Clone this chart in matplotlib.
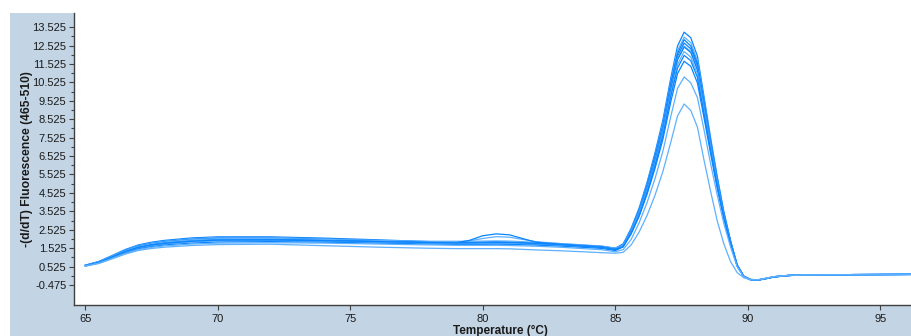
import numpy as np
import matplotlib.pyplot as plt
from matplotlib.patches import Rectangle

plt.rcParams['font.family'] = ['Liberation Sans', 'DejaVu Sans']

# temperature steps of the melt (deg C)
temps = [65.0, 65.5, 66.0, 66.5, 67.0, 67.5, 68.0, 69.0, 70.0, 72.0, 74.0, 76.0,
         78.0, 79.0, 79.5, 80.0, 80.5, 81.0, 81.5, 82.0, 83.0, 84.5, 85.0,
         85.3, 85.6, 85.9, 86.2, 86.5, 86.8, 87.1, 87.35, 87.6,
         87.85, 88.1, 88.35, 88.6, 88.85, 89.1, 89.35, 89.6,
         89.85, 90.1, 90.4, 90.7, 91.0, 91.5, 92.0, 94.0, 96.2]

# -(d/dT) fluorescence per sample
s01 = [0.60, 0.80, 1.12, 1.45, 1.70, 1.85, 1.95, 2.08, 2.14, 2.14, 2.07, 1.98,
       1.88, 1.85, 1.84, 1.84, 1.85, 1.84, 1.82, 1.80, 1.74, 1.62, 1.52,
       1.75, 2.60, 3.70, 5.10, 6.70, 8.50, 10.80, 12.50, 13.25,
       12.95, 11.95, 9.75, 7.50, 5.40, 3.50, 1.95, 0.62,
       0.01, -0.18, -0.20, -0.12, -0.03, 0.04, 0.07, 0.09, 0.10]
s02 = [0.60, 0.78, 1.10, 1.42, 1.66, 1.80, 1.90, 2.03, 2.10, 2.10, 2.02, 1.94,
       1.86, 1.85, 1.92, 2.05, 2.15, 2.12, 2.00, 1.88, 1.76, 1.62, 1.52,
       1.70, 2.60, 3.60, 5.00, 6.55, 8.30, 10.60, 12.25, 12.98,
       12.68, 11.70, 9.55, 7.35, 5.30, 3.40, 1.90, 0.60,
       0.00, -0.19, -0.21, -0.13, -0.04, 0.03, 0.07, 0.09, 0.10]
s03 = [0.60, 0.78, 1.08, 1.40, 1.64, 1.78, 1.88, 2.00, 2.06, 2.06, 2.01, 1.94,
       1.86, 1.84, 1.83, 1.83, 1.84, 1.83, 1.81, 1.79, 1.73, 1.60, 1.50,
       1.75, 2.55, 3.60, 4.95, 6.50, 8.20, 10.50, 12.10, 12.84,
       12.50, 11.55, 9.45, 7.30, 5.25, 3.40, 1.90, 0.60,
       0.00, -0.18, -0.20, -0.12, -0.03, 0.04, 0.07, 0.09, 0.10]
s04 = [0.58, 0.76, 1.06, 1.37, 1.61, 1.75, 1.85, 1.97, 2.02, 2.02, 1.98, 1.91,
       1.84, 1.82, 1.81, 1.81, 1.82, 1.81, 1.79, 1.77, 1.71, 1.58, 1.47,
       1.70, 2.50, 3.55, 4.85, 6.40, 8.10, 10.35, 11.95, 12.66,
       12.35, 11.40, 9.30, 7.20, 5.15, 3.35, 1.85, 0.60,
       -0.01, -0.18, -0.19, -0.11, -0.02, 0.04, 0.07, 0.09, 0.10]
s05 = [0.60, 0.78, 1.07, 1.38, 1.62, 1.76, 1.86, 1.98, 2.04, 2.05, 2.00, 1.94,
       1.90, 1.90, 1.90, 1.91, 1.92, 1.91, 1.88, 1.84, 1.77, 1.64, 1.52,
       1.70, 2.50, 3.50, 4.80, 6.30, 8.00, 10.20, 11.80, 12.50,
       12.20, 11.25, 9.20, 7.10, 5.10, 3.30, 1.85, 0.60,
       0.00, -0.18, -0.20, -0.12, -0.03, 0.04, 0.07, 0.09, 0.10]
s06 = [0.58, 0.75, 1.03, 1.33, 1.56, 1.70, 1.79, 1.90, 1.96, 1.98, 1.94, 1.89,
       1.83, 1.82, 1.95, 2.20, 2.30, 2.25, 2.05, 1.85, 1.73, 1.60, 1.47,
       1.65, 2.45, 3.45, 4.75, 6.25, 7.95, 10.15, 11.75, 12.44,
       12.15, 11.20, 9.15, 7.05, 5.05, 3.30, 1.85, 0.60,
       0.00, -0.17, -0.19, -0.11, -0.03, 0.04, 0.07, 0.09, 0.10]
s07 = [0.57, 0.74, 1.02, 1.31, 1.54, 1.67, 1.76, 1.87, 1.93, 1.94, 1.91, 1.86,
       1.81, 1.79, 1.78, 1.78, 1.79, 1.78, 1.76, 1.74, 1.69, 1.56, 1.44,
       1.65, 2.40, 3.40, 4.65, 6.10, 7.80, 9.95, 11.50, 12.20,
       11.90, 11.00, 9.00, 6.95, 5.00, 3.20, 1.80, 0.58,
       -0.01, -0.18, -0.20, -0.12, -0.03, 0.04, 0.07, 0.09, 0.10]
s08 = [0.58, 0.75, 1.04, 1.34, 1.57, 1.70, 1.79, 1.90, 1.96, 1.97, 1.93, 1.88,
       1.83, 1.81, 1.82, 1.84, 1.86, 1.84, 1.81, 1.78, 1.71, 1.57, 1.45,
       1.60, 2.35, 3.30, 4.55, 6.00, 7.65, 9.80, 11.30, 11.99,
       11.70, 10.80, 8.80, 6.80, 4.90, 3.15, 1.78, 0.57,
       -0.02, -0.19, -0.21, -0.13, -0.04, 0.03, 0.07, 0.09, 0.10]
s09 = [0.56, 0.72, 0.99, 1.27, 1.49, 1.61, 1.70, 1.80, 1.86, 1.88, 1.85, 1.80,
       1.75, 1.73, 1.73, 1.73, 1.74, 1.73, 1.71, 1.69, 1.63, 1.51, 1.39,
       1.60, 2.30, 3.25, 4.45, 5.85, 7.45, 9.50, 11.00, 11.67,
       11.40, 10.50, 8.60, 6.65, 4.75, 3.10, 1.73, 0.56,
       -0.01, -0.18, -0.20, -0.12, -0.03, 0.04, 0.07, 0.09, 0.10]
s10 = [0.56, 0.71, 0.97, 1.24, 1.45, 1.57, 1.65, 1.75, 1.80, 1.82, 1.80, 1.75,
       1.70, 1.68, 1.68, 1.68, 1.68, 1.67, 1.65, 1.63, 1.57, 1.44, 1.33,
       1.45, 2.00, 2.90, 4.00, 5.30, 6.80, 8.70, 10.20, 10.82,
       10.50, 9.70, 7.95, 6.10, 4.40, 2.85, 1.60, 0.52,
       -0.02, -0.18, -0.19, -0.11, -0.02, 0.04, 0.07, 0.09, 0.10]
s11 = [0.55, 0.69, 0.94, 1.20, 1.40, 1.51, 1.58, 1.67, 1.72, 1.74, 1.66, 1.58,
       1.52, 1.50, 1.50, 1.50, 1.50, 1.49, 1.46, 1.43, 1.38, 1.28, 1.25,
       1.30, 1.70, 2.40, 3.30, 4.40, 5.70, 7.30, 8.70, 9.35,
       9.00, 8.10, 6.30, 4.60, 3.00, 1.75, 0.80, 0.20,
       -0.08, -0.19, -0.19, -0.11, -0.02, 0.04, 0.07, 0.09, 0.10]

samples = [s01, s02, s03, s04, s05, s06, s07, s08, s09, s10, s11]
colors = ['#0a84ff', '#5eb0ff', '#0a84ff', '#0a84ff', '#5eb0ff', '#0a84ff',
          '#5eb0ff', '#0a84ff', '#0a84ff', '#5eb0ff', '#5eb0ff']

x_ticks = [65, 70, 75, 80, 85, 90, 95]
y_ticks = [-0.475, 0.525, 1.525, 2.525, 3.525, 4.525, 5.525, 6.525, 7.525,
           8.525, 9.525, 10.525, 11.525, 12.525, 13.525]

fig = plt.figure(figsize=(9.12, 3.36), dpi=100)
fig.patch.set_facecolor('white')
fig.patches.append(Rectangle((10 / 912, 0), 1, 323 / 336, transform=fig.transFigure,
                             facecolor='#c3d5e5', edgecolor='none', zorder=-1))

ax = fig.add_axes([74 / 912, 31 / 336, 838 / 912, 292 / 336])
ax.set_zorder(1)
ax.set_facecolor('white')

for vals, c in zip(samples, colors):
    ax.plot(temps, vals, color=c, lw=0.9)

ax.set_xlim(64.57, 96.2)
ax.set_ylim(-1.56, 14.29)
ax.set_xticks(x_ticks)
ax.set_yticks(y_ticks)
ax.set_yticklabels(['%.3f' % v for v in y_ticks])
ax.set_yticks([v + 0.5 for v in y_ticks[:-1]], minor=True)

for s in ['top', 'right']:
    ax.spines[s].set_visible(False)
for s in ['left', 'bottom']:
    ax.spines[s].set_color('#404040')
    ax.spines[s].set_linewidth(1.0)

ax.tick_params(axis='both', which='major', labelsize=8, length=3.5, width=0.8,
               color='#404040', labelcolor='#1a1a1a', pad=2)
ax.tick_params(axis='y', which='minor', length=2, width=0.8, color='#404040')
ax.tick_params(axis='x', pad=3)

fig.text(27 / 912, 177 / 336, '-(d/dT) Fluorescence (465-510)', rotation=90,
         ha='center', va='center', fontsize=8.7, fontweight='bold', color='#1a1a1a')
fig.text(500 / 912, 5 / 336, 'Temperature (°C)', ha='center', va='center',
         fontsize=8.5, fontweight='bold', color='#1a1a1a')

fig.savefig('out.png', dpi=100)
